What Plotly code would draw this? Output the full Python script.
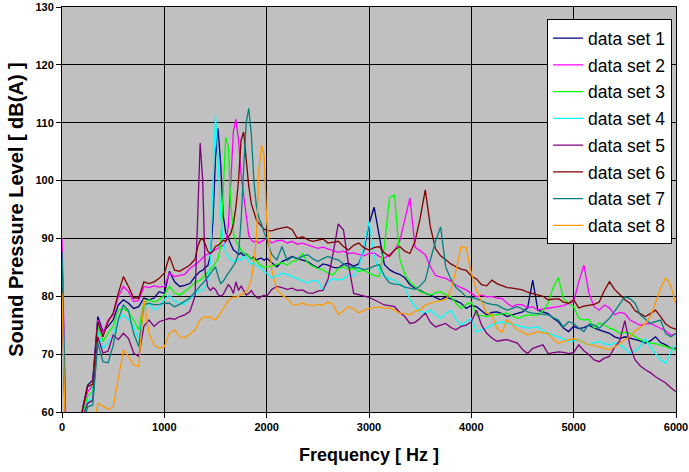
import plotly.graph_objects as go

# Frequency grid (Hz): 50 Hz steps, 25 Hz steps through the resonance region
FREQ = list(range(0, 1301, 50)) + list(range(1325, 2001, 25)) + list(range(2050, 6001, 50))

SERIES_NAMES = ["data set 1", "data set 2", "data set 3", "data set 4",
                "data set 5", "data set 6", "data set 7", "data set 8"]
SERIES_COLORS = ["#000080", "#FF00FF", "#00FF00", "#00FFFF",
                 "#800080", "#800000", "#008080", "#FF9900"]

SET1 = ([88, 45, 48, 55, 60.5, 64.6, 65.5, 76.5, 73.9, 74.8, 75.9, 78.5, 79.4, 78.8, 77.9, 78.2, 79.7, 79.4, 79.7, 80.8,
         80.5, 84.3, 82.5, 81.7, 81.9, 82.2, 83.4]
        + [83.8, 84.3, 84.5, 85.0, 85.3, 87.0, 93.0, 104.0, 109.0, 103.0, 94.0, 91.0, 90.0, 89.0, 88.0, 87.7, 87.2, 87.5,
           87.0, 87.3, 86.9, 86.5, 86.8, 86.2, 86.5, 86.6, 86.2, 86.6]
        + [85.8, 85.1, 86.0, 86.4, 86.9, 86.5, 86.2, 86.0, 85.4, 84.9,
           85.6, 85.4, 85.0, 84.9, 85.5, 85.7, 85.2, 85.6, 88.0, 92.5,
           95.4, 90.5, 85.5, 84.6, 84.1, 83.8, 83.2, 82.0, 81.4, 81.0,
           80.5, 80.2, 79.8, 79.4, 79.9, 79.6, 79.2, 78.8, 77.9, 78.4,
           78.2, 77.5, 76.8, 77.2, 77.3, 77.0, 76.5, 76.8, 77.0, 77.3,
           78.0, 82.8, 77.6, 77.3, 77.0, 76.2, 75.6, 74.5, 73.9, 74.8,
           74.4, 74.6, 75.0, 74.5, 74.2, 73.8, 73.6, 73.0, 72.7, 73.0,
           72.8, 72.5, 72.3, 71.9, 72.3, 73.0, 72.0, 71.6, 71.0, 71.0])

SET2 = ([90, 47, 50, 55, 60.3, 63.5, 64.5, 75.9, 73.6, 75.9, 76.8, 79.9, 81.7, 80.8, 79.1, 79.3, 81.7, 81.5, 81.8, 81.6,
         81.7, 84.0, 83.4, 83.6, 83.8, 84.8, 85.4]
        + [85.8, 86.2, 86.6, 87.1, 87.3, 87.4, 87.8, 88.0, 88.3, 88.6, 88.8, 89.5, 92.0, 100.0, 108.5, 110.6, 107.0, 101.0,
           97.5, 94.5, 90.5, 89.7, 89.4, 89.6, 89.2, 89.5, 89.8, 90.0]
        + [89.2, 89.6, 89.7, 89.2, 89.5, 89.0, 89.2, 88.9, 88.6, 88.3,
           88.5, 88.2, 88.0, 87.6, 87.8, 87.4, 87.5, 87.2, 87.0, 87.4,
           87.5, 86.9, 86.6, 87.2, 88.0, 89.5, 93.0, 97.0, 88.5, 87.8,
           87.2, 85.1, 83.6, 83.3, 83.1, 82.6, 81.9, 81.5, 81.1, 80.5,
           79.9, 80.2, 79.9, 80.0, 79.7, 79.6, 78.8, 78.2, 78.6, 78.5,
           78.0, 78.2, 77.6, 77.8, 77.9, 78.0, 78.2, 78.4, 78.8, 79.1,
           82.5, 85.4, 80.5, 78.2, 77.6, 78.5, 78.0, 76.8, 77.2, 77.0,
           75.9, 75.5, 75.0, 75.2, 75.3, 74.9, 74.5, 74.0, 73.3, 73.5])

SET3 = ([84, 44, 48, 54, 59.5, 62.7, 63.5, 74.8, 72.2, 73.6, 74.8, 77.6, 77.9, 77.3, 75.9, 74.2, 78.8, 79.4, 79.0, 79.4,
         80.2, 81.7, 80.6, 80.2, 80.8, 81.5, 82.4]
        + [82.6, 82.8, 83.2, 83.7, 84.2, 84.6, 85.1, 85.8, 86.5, 88.5, 98.0, 107.5, 106.0, 96.0, 91.0, 89.5, 88.8, 88.0,
           87.5, 87.2, 86.8, 86.5, 86.3, 86.2, 85.6, 85.3, 85.0, 85.1]
        + [85.2, 85.5, 85.8, 85.4, 86.0, 86.2, 87.4, 85.8, 85.2, 84.8,
           84.6, 84.0, 83.7, 84.8, 85.1, 84.6, 84.8, 84.3, 84.5, 84.0,
           83.6, 83.4, 88.5, 97.0, 97.5, 86.5, 83.8, 82.5, 81.6, 80.8,
           80.5, 80.2, 80.6, 80.8, 80.3, 79.9, 78.8, 77.9, 78.6, 79.0,
           76.8, 76.6, 76.5, 76.7, 76.8, 77.0, 77.1, 76.6, 76.2, 76.5,
           76.8, 76.7, 76.8, 77.5, 78.8, 81.5, 83.3, 79.6, 78.8, 78.2,
           76.2, 75.9, 76.0, 74.5, 75.4, 75.0, 74.5, 74.2, 73.6, 73.8,
           73.6, 73.0, 72.5, 72.2, 71.9, 71.8, 71.6, 71.3, 71.0, 70.7])

SET4 = ([86, 45, 48, 54, 59, 61.8, 62.6, 73.9, 71.0, 72.0, 73.3, 75.9, 76.8, 76.0, 74.8, 72.7, 77.9, 78.8, 77.6, 78.2,
         79.4, 80.2, 79.2, 78.8, 78.6, 79.6, 80.5]
        + [80.8, 81.0, 81.1, 81.8, 82.8, 86.0, 100.0, 111.3, 104.0, 94.0, 89.7, 87.5, 86.8, 86.3, 86.0, 86.3, 86.5, 86.2,
           86.9, 86.7, 86.0, 85.5, 85.8, 85.3, 85.1, 84.8, 84.3, 84.0]
        + [83.2, 83.5, 84.0, 83.8, 83.4, 83.0, 82.6, 82.3, 82.8, 82.6,
           81.1, 82.5, 83.1, 82.8, 83.0, 83.7, 83.5, 85.0, 88.5, 92.9,
           86.9, 84.5, 83.4, 83.0, 82.8, 82.2, 81.5, 79.5, 78.2, 77.4,
           77.1, 77.6, 76.8, 76.2, 77.0, 77.6, 76.0, 75.0, 75.6, 76.2,
           73.9, 74.2, 74.5, 75.0, 75.4, 75.6, 75.3, 75.2, 75.0, 74.8,
           74.5, 74.6, 74.7, 74.0, 73.6, 73.3, 73.0, 72.6, 72.2, 72.3,
           72.5, 72.0, 71.6, 72.0, 72.2, 71.8, 71.6, 71.9, 71.6, 71.0,
           70.1, 70.6, 71.3, 72.7, 71.2, 70.1, 69.0, 68.4, 70.4, 71.6])

SET5 = ([82, 44, 47, 53, 59, 61.5, 62.0, 73.0, 70.2, 70.5, 73.3, 72.5, 73.6, 72.7, 70.2, 69.6, 74.8, 75.9, 74.8, 75.6,
         75.9, 76.2, 76.0, 76.5, 76.8, 77.4, 80.0]
        + [92.0, 106.5, 100.0, 84.0, 81.6, 81.0, 81.5, 81.2, 80.3, 80.0, 80.3, 81.2, 82.0, 81.5, 80.5, 82.5, 81.0, 81.8,
           81.0, 80.2, 80.5, 81.0, 80.3, 79.8, 79.6, 80.0, 80.2, 80.0]
        + [81.2, 81.7, 81.5, 81.2, 81.4, 81.0, 81.1, 80.6, 80.5, 80.9,
           81.0, 83.0, 87.5, 92.5, 91.5, 85.5, 80.5, 80.3, 80.0, 79.8,
           79.4, 79.0, 78.5, 78.4, 78.2, 77.2, 76.5, 75.3, 75.5, 76.2,
           77.1, 75.5, 74.7, 75.0, 75.3, 74.6, 74.2, 74.8, 75.0, 75.6,
           77.6, 75.0, 73.6, 72.8, 72.2, 72.4, 72.5, 72.2, 71.9, 70.8,
           70.1, 71.0, 71.3, 71.6, 70.1, 70.3, 70.4, 70.3, 70.1, 70.3,
           71.6, 70.6, 69.9, 69.0, 68.7, 69.3, 69.6, 71.2, 72.3, 75.8,
           71.5, 69.0, 68.0, 67.3, 66.8, 66.1, 65.6, 65.0, 64.2, 63.5])

SET6 = ([82.5, 44, 48, 54, 60.3, 64.4, 64.8, 75.6, 73.0, 75.6, 77.1, 80.5, 83.4, 81.7, 79.7, 79.7, 82.5, 82.2, 82.5, 83.1,
         84.0, 86.9, 84.5, 84.3, 84.8, 85.4, 86.4]
        + [88.5, 89.7, 90.0, 89.0, 87.8, 87.4, 87.8, 88.6, 88.8, 89.2, 89.7, 89.5, 90.2, 90.9, 92.5, 95.5, 100.0, 107.0,
           108.4, 104.0, 99.0, 96.0, 94.5, 93.2, 92.6, 92.0, 91.6, 91.4]
        + [91.3, 91.6, 91.8, 92.0, 91.5, 90.0, 90.3, 89.8, 89.5, 89.7,
           89.9, 89.2, 89.4, 89.5, 88.6, 88.0, 88.8, 89.2, 88.4, 88.0,
           88.4, 88.6, 87.5, 86.9, 88.0, 88.6, 87.8, 87.4, 89.5, 93.5,
           98.4, 92.0, 88.2, 87.0, 86.3, 85.6, 85.1, 84.7, 84.5, 83.5,
           83.0, 82.0, 81.8, 82.8, 82.2, 81.9, 81.5, 81.4, 81.2, 81.1,
           80.7, 80.5, 80.3, 80.0, 79.4, 79.5, 79.6, 79.0, 78.8, 79.4,
           78.0, 78.3, 78.5, 78.6, 79.0, 81.0, 82.5, 81.2, 80.3, 79.4,
           78.8, 77.5, 77.0, 76.5, 77.0, 77.6, 76.5, 75.2, 74.6, 74.3])

SET7 = ([87.7, 44, 47, 52, 57, 60.9, 61.2, 71.9, 68.7, 68.5, 71.5, 76.0, 78.5, 77.5, 73.6, 71.3, 78.5, 78.8, 78.5, 78.6,
         78.8, 78.8, 78.2, 78.6, 79.2, 79.7, 80.8]
        + [81.2, 81.8, 82.2, 82.8, 83.4, 84.0, 84.5, 85.1, 83.5, 82.2, 82.6, 83.4, 84.0, 84.6, 85.2, 86.0, 87.5, 93.0,
           102.0, 110.0, 112.5, 108.0, 100.0, 95.5, 93.5, 92.5, 91.0, 90.0]
        + [87.2, 86.3, 88.6, 86.2, 86.8, 86.5, 86.9, 87.2, 86.5, 86.0,
           86.5, 86.9, 86.5, 86.3, 85.6, 85.1, 85.0, 84.9, 84.6, 84.8,
           85.2, 85.5, 83.5, 82.3, 82.1, 82.0, 81.6, 81.4, 81.2, 81.8,
           82.8, 86.3, 89.5, 92.0, 85.0, 83.0, 81.5, 80.8, 79.9, 79.8,
           79.6, 79.2, 78.8, 78.6, 78.5, 78.0, 77.6, 77.9, 78.2, 77.8,
           77.3, 77.1, 77.0, 76.9, 76.8, 76.3, 75.9, 74.7, 75.6, 75.3,
           74.5, 73.9, 75.2, 75.0, 74.5, 75.4, 76.2, 77.4, 78.6, 79.9,
           79.6, 78.8, 76.8, 76.0, 75.3, 75.6, 75.9, 73.5, 73.0, 73.6])

SET8 = ([80.6, 44, 45, 46, 48, 52, 56, 61.5, 61.0, 60.5, 60.8, 65.5, 70.7, 69.6, 68.1, 67.9, 79.5, 73.5, 71.6, 71.0,
         71.3, 73.6, 74.2, 73.0, 72.8, 73.5, 74.2]
        + [75.0, 75.9, 76.2, 76.5, 76.3, 76.5, 76.0, 75.9, 76.5, 77.2, 77.8, 78.5, 79.2, 79.6, 79.9, 79.8, 80.0, 80.2,
           80.5, 80.8, 81.6, 83.0, 86.0, 90.0, 102.0, 106.1, 104.5, 93.0]
        + [84.5, 81.1, 80.2, 79.6, 78.6, 78.5, 78.8, 78.5, 78.4, 78.6,
           78.5, 79.0, 78.6, 76.8, 77.5, 78.2, 77.8, 77.1, 77.6, 77.9,
           78.0, 78.2, 77.9, 78.0, 77.6, 77.1, 77.0, 76.8, 77.4, 77.7,
           78.5, 78.8, 79.1, 79.3, 79.4, 81.0, 84.5, 88.6, 88.4, 84.0,
           81.1, 79.0, 77.1, 76.8, 74.5, 73.8, 75.9, 75.2, 74.2, 73.8,
           73.3, 73.6, 73.9, 73.7, 73.6, 72.6, 71.9, 72.2, 72.4, 72.7,
           72.4, 72.0, 71.6, 71.5, 71.3, 71.0, 70.7, 71.2, 71.8, 72.5,
           73.0, 74.0, 74.6, 75.3, 76.5, 78.8, 81.4, 83.2, 81.8, 78.5])

ALL_SETS = [SET1, SET2, SET3, SET4, SET5, SET6, SET7, SET8]
for s in ALL_SETS:
    if len(s) != len(FREQ):
        raise ValueError(f"length mismatch {len(s)} vs {len(FREQ)}")

X_TICKS = [0, 1000, 2000, 3000, 4000, 5000, 6000]
Y_TICKS = [60, 70, 80, 90, 100, 110, 120, 130]

fig = go.Figure()
for i, (name, color, vals) in enumerate(zip(SERIES_NAMES, SERIES_COLORS, ALL_SETS)):
    fig.add_trace(go.Scatter(
        x=FREQ, y=vals, mode="lines", name=name,
        line=dict(color=color, width=1.3),
        legendgroup=f"g{i}",
    ))

FONT = "Arial, 'Liberation Sans', sans-serif"

axis_common = dict(
    showgrid=True, gridcolor="#000000", gridwidth=1,
    showline=True, linecolor="#000000", linewidth=1, mirror=True,
    ticks="outside", ticklen=5, tickcolor="#000000", tickwidth=1,
    zeroline=False, automargin=False,
    tickfont=dict(family=FONT, size=11, color="#000000", weight="bold"),
)

fig.update_layout(
    width=689, height=472,
    margin=dict(l=62, r=13, t=7, b=60),
    paper_bgcolor="#FFFFFF",
    plot_bgcolor="#C0C0C0",
    font=dict(family=FONT, color="#000000"),
    showlegend=True,
    legend=dict(
        x=0.79, y=0.97, xanchor="left", yanchor="top",
        bgcolor="#FFFFFF", bordercolor="#000000", borderwidth=1,
        font=dict(family=FONT, size=17.5, color="#000000"),
        itemwidth=30, traceorder="grouped", tracegroupgap=1,
    ),
    xaxis=dict(
        range=[0, 6000], tickvals=X_TICKS,
        title=dict(text="Frequency [ Hz ]", standoff=16,
                   font=dict(family=FONT, size=18, color="#000000", weight="bold")),
        **axis_common,
    ),
    yaxis=dict(
        range=[60, 130], tickvals=Y_TICKS,
        title=dict(text="Sound Pressure Level [ dB(A) ]", standoff=6,
                   font=dict(family=FONT, size=20, color="#000000", weight="bold")),
        **axis_common,
    ),
)

# place the figure at the page's top-left corner (no default body margin)
fig.write_html(
    "out.html",
    config={"displayModeBar": False},
    post_script="document.body.style.margin='0';document.body.style.padding='0';",
)
